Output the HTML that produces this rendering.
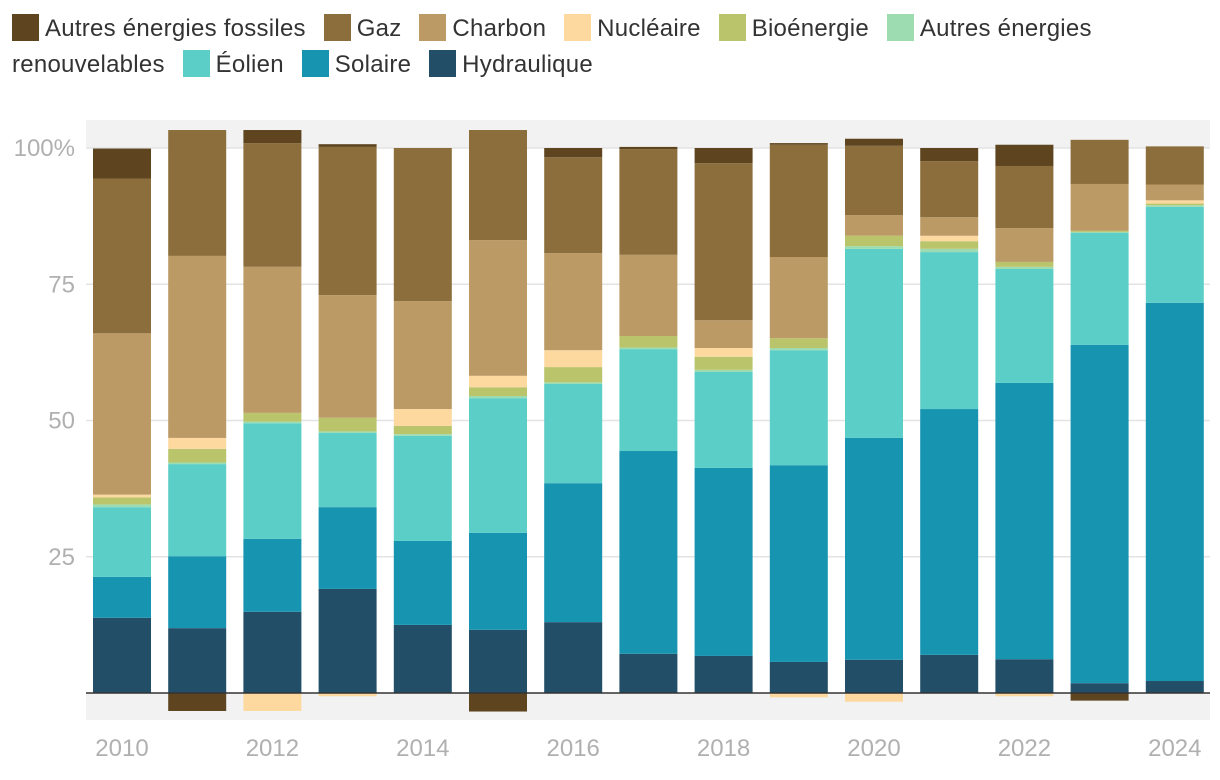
<!DOCTYPE html>
<html><head><meta charset="utf-8"><style>
body{margin:0;background:#fff;font-family:"Liberation Sans",sans-serif;}
.legend{position:absolute;left:12px;top:11px;width:1100px;font-size:24px;color:#333;line-height:36px;letter-spacing:0.25px}
.li{margin-right:11px}
.sw{display:inline-block;width:27px;height:27px;vertical-align:-5px;margin-right:6px}
</style></head><body>
<div class="legend" id="legend"></div>
<svg id="chart" width="1220" height="780" style="position:absolute;left:0;top:0;z-index:-1"></svg>
<script>
const years=[2010,2011,2012,2013,2014,2015,2016,2017,2018,2019,2020,2021,2022,2023,2024];
const seriesNames=["Hydraulique","Solaire","Éolien","Autres énergies renouvelables","Bioénergie","Nucléaire","Charbon","Gaz","Autres énergies fossiles"];
const hydro=[13.8,11.9,14.9,19.1,12.5,11.6,13,7.2,6.8,5.7,6.1,7,6.2,1.8,2.2];
const solar=[7.5,13.2,13.4,15,15.4,17.8,25.5,37.2,34.5,36.1,40.7,45.1,50.7,62.1,69.4];
const wind=[12.8,16.9,21.2,13.6,19.3,24.7,18.2,18.7,17.6,21.1,34.7,28.8,20.9,20.5,17.6];
const otherRen=[0.5,0.3,0.3,0.3,0.3,0.4,0.3,0.3,0.4,0.4,0.5,0.6,0.4,0.2,0.3];
const bio=[1.3,2.5,1.6,2.5,1.5,1.6,2.8,2.1,2.4,1.8,1.9,1.4,0.9,0.2,0.3];
const nuclear=[0.5,2,-3.3,-0.6,3.1,2.1,3.1,0,1.6,-0.8,-1.6,1,-0.6,0,0.6];
const coal=[29.6,33.4,26.8,22.5,19.8,24.9,17.8,14.9,5.1,14.9,3.8,3.4,6.2,8.6,2.9];
const gas=[28.4,23.1,22.7,27.2,28.1,20.2,17.6,19.4,28.8,20.6,12.7,10.3,11.4,8.1,7];
const otherFossil=[5.5,-3.3,2.4,0.5,0,-3.4,1.7,0.4,2.8,0.3,1.3,2.4,3.9,-1.4,0];
const yTicks=[25,50,75,100];
const yTickLabels=["25","50","75","100%"];
const series=[hydro,solar,wind,otherRen,bio,nuclear,coal,gas,otherFossil];
const colors=["#234e68","#1794b0","#5ccec8","#9ddcb0","#b9c46b","#fdd9a0","#bb9a65","#8b6e3c","#5e4520"];
const legendOrder=[8,7,6,5,4,3,2,1,0];
const svg=document.getElementById('chart');const NS="http://www.w3.org/2000/svg";
const y=v=>693-v*5.45;const x=i=>122+i*75.2;const bw=58;
function mk(t,a){const e=document.createElementNS(NS,t);for(const k in a)e.setAttribute(k,a[k]);svg.appendChild(e);return e;}
let r=mk('rect',{x:86,y:120,width:1124,height:28,fill:'#f2f2f2'});


r=mk('rect',{x:86,y:693,width:1124,height:27,fill:'#f2f2f2'});


yTicks.forEach((t,i)=>{const l=mk('line',{x1:86,x2:1210,y1:y(t),y2:y(t),stroke:'#e3e3e3','stroke-width':1.5});


const tx=mk('text',{x:75,y:y(t)+8,'text-anchor':'end','font-size':24,fill:'#b0b0b0'});tx.textContent=yTickLabels[i];

});
years.forEach((yr,i)=>{let pos=0,neg=0;series.forEach((s,k)=>{const v=s[i];if(!v)return;let y0,y1;
if(v>0){y0=pos;y1=pos+v;pos=y1;}else{y0=neg+v;y1=neg;neg=y0;}
const b=mk('rect',{x:x(i)-bw/2,y:y(y1),width:bw,height:y(y0)-y(y1),fill:colors[k]});

});
if(i%2==0){const t=mk('text',{x:x(i),y:756,'text-anchor':'middle','font-size':24,fill:'#b0b0b0'});t.textContent=yr;

}});
const z=mk('line',{x1:86,x2:1210,y1:693,y2:693,stroke:'#333','stroke-width':1.5});


const lg=document.getElementById('legend');
legendOrder.forEach(k=>{const d=document.createElement('span');d.className='li';


d.innerHTML='<span class="sw" style="background:'+colors[k]+'"></span>'+seriesNames[k];lg.appendChild(d);lg.appendChild(document.createTextNode(' '));});
</script>
</body></html>
